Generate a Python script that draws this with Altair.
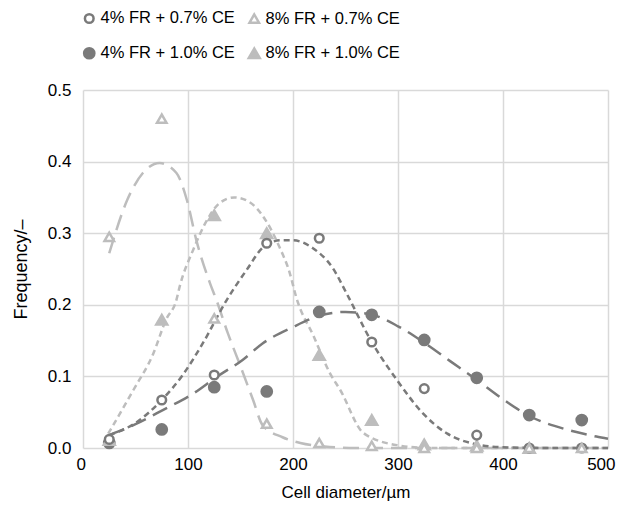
import altair as alt
import pandas as pd

# ---- data ----
series_names = ["4% FR + 0.7% CE", "8% FR + 0.7% CE", "4% FR + 1.0% CE", "8% FR + 1.0% CE"]
diam = [25, 75, 125, 175, 225, 275, 325, 375, 425, 475]
fr4_ce07 = [0.012, 0.067, 0.102, 0.286, 0.293, 0.148, 0.083, 0.018, 0.0, 0.0]
fr8_ce07 = [0.295, 0.46, 0.181, 0.034, 0.007, 0.003, 0.0, 0.0, 0.0, 0.0]
fr4_ce10 = [0.007, 0.026, 0.085, 0.079, 0.19, 0.186, 0.151, 0.098, 0.046, 0.039]
fr8_ce10 = [0.011, 0.179, 0.325, 0.3, 0.13, 0.039, 0.005, 0.003, 0.0, None]

# fitted curves
fit_fr8_ce07_x = [25, 42, 57, 73, 89, 99, 108, 121, 127, 138, 149, 162, 171, 190, 207, 230, 260, 300, 500]
fit_fr8_ce07_y = [0.272, 0.346, 0.384, 0.398, 0.384, 0.346, 0.29, 0.23, 0.207, 0.16, 0.118, 0.067, 0.032, 0.015, 0.007, 0.002, 0.0, 0.0, 0.0]
fit_fr8_ce10_x = [24, 48, 67, 79, 89, 92, 105, 118, 130, 144, 158, 174, 187, 197, 203, 220, 235, 245, 267, 299, 330, 500]
fit_fr8_ce10_y = [0.02, 0.081, 0.132, 0.179, 0.207, 0.225, 0.277, 0.318, 0.342, 0.35, 0.344, 0.318, 0.281, 0.244, 0.211, 0.155, 0.105, 0.081, 0.021, 0.004, 0.0, 0.0]
fit_fr4_ce07_x = [25, 50, 75, 95, 114, 137, 156, 172, 188, 200, 219, 238, 251, 275, 299, 324, 347, 372, 400, 450, 500]
fit_fr4_ce07_y = [0.018, 0.035, 0.067, 0.102, 0.146, 0.207, 0.249, 0.281, 0.29, 0.29, 0.279, 0.251, 0.216, 0.148, 0.095, 0.048, 0.02, 0.006, 0.001, 0.0, 0.0]
fit_fr4_ce10_x = [25, 51, 76, 105, 127, 152, 171, 200, 226, 250, 273, 300, 324, 350, 375, 400, 426, 460, 489, 500]
fit_fr4_ce10_y = [0.018, 0.034, 0.053, 0.076, 0.099, 0.123, 0.146, 0.169, 0.185, 0.19, 0.187, 0.17, 0.148, 0.121, 0.095, 0.068, 0.044, 0.026, 0.016, 0.013]

x_ticks = [0, 100, 200, 300, 400, 500]
y_ticks = [0.0, 0.1, 0.2, 0.3, 0.4, 0.5]

DARK = "#7a7a7a"
LIGHT = "#bdbdbd"
FONT = "Liberation Sans"

# points table (draw order: filled first, open on top)
rows = []
for name, vals in [(series_names[2], fr4_ce10), (series_names[3], fr8_ce10),
                   (series_names[0], fr4_ce07), (series_names[1], fr8_ce07)]:
    for d, v in zip(diam, vals):
        if v is not None:
            rows.append({"d": d, "f": v, "series": name})
pts = pd.DataFrame(rows)

xs = alt.Scale(domain=[0, 500], nice=False)
ys = alt.Scale(domain=[0, 0.5], nice=False)

x_axis = alt.Axis(title="Cell diameter/µm", values=x_ticks, grid=True, domain=False, ticks=False,
                  labelFlush=True, labelFlushOffset=7, labelFontSize=17, titleFontSize=17,
                  labelPadding=8, titlePadding=12,
                  titleFontWeight="normal", labelColor="#000", titleColor="#000")
y_axis = alt.Axis(title="Frequency/–", values=y_ticks, format=".1f", grid=True, domain=False, ticks=False,
                  labelFlush=False, labelFontSize=17, titleFontSize=18, labelPadding=12, titlePadding=17,
                  titleFontWeight="normal", labelColor="#000", titleColor="#000")

# legend laid out column-major: order gives rows (0.7% CE) and (1.0% CE)
legend_order = [series_names[0], series_names[2], series_names[1], series_names[3]]
legend = alt.Legend(title=None, orient="none", legendX=-2, legendY=-80, columns=2, values=legend_order,
                    labelFontSize=16.5, labelColor="#000", symbolStrokeWidth=2.5,
                    columnPadding=8, rowPadding=15, labelOffset=3, symbolSize=110,
                    labelLimit=300)

dom = series_names
point_layer = alt.Chart(pts).mark_point(strokeWidth=2.5, opacity=1).encode(
    x=alt.X("d:Q", scale=xs, axis=x_axis),
    y=alt.Y("f:Q", scale=ys, axis=y_axis),
    shape=alt.Shape("series:N", scale=alt.Scale(domain=dom, range=["circle", "triangle-up", "circle", "triangle-up"]), legend=legend),
    stroke=alt.Stroke("series:N", scale=alt.Scale(domain=dom, range=[DARK, LIGHT, DARK, LIGHT]), legend=legend),
    fill=alt.Fill("series:N", scale=alt.Scale(domain=dom, range=["white", "white", DARK, LIGHT]), legend=legend),
    size=alt.Size("series:N", scale=alt.Scale(domain=dom, range=[75, 120, 160, 170]), legend=legend),
)

def curve(xv, yv, color, dash):
    df = pd.DataFrame({"d": xv, "f": yv})
    return alt.Chart(df).mark_line(color=color, strokeDash=dash, strokeWidth=2.5, interpolate="monotone").encode(
        x=alt.X("d:Q", scale=xs), y=alt.Y("f:Q", scale=ys))

lines = [
    curve(fit_fr8_ce07_x, fit_fr8_ce07_y, LIGHT, [16, 8]),
    curve(fit_fr8_ce10_x, fit_fr8_ce10_y, LIGHT, [6, 4]),
    curve(fit_fr4_ce07_x, fit_fr4_ce07_y, DARK, [6, 4]),
    curve(fit_fr4_ce10_x, fit_fr4_ce10_y, DARK, [16, 8]),
]

chart = alt.layer(*lines, point_layer).properties(
    width=525, height=358,
    autosize=alt.AutoSizeParams(type="none"),
    padding={"left": 75, "top": 82, "right": 10, "bottom": 56},
).configure_axis(
    gridColor="#d9d9d9", gridWidth=1.5, labelFont=FONT, titleFont=FONT
).configure_legend(
    labelFont=FONT
).configure_view(stroke=None)

chart.save("out.html", embed_options={"renderer": "svg", "actions": False})
